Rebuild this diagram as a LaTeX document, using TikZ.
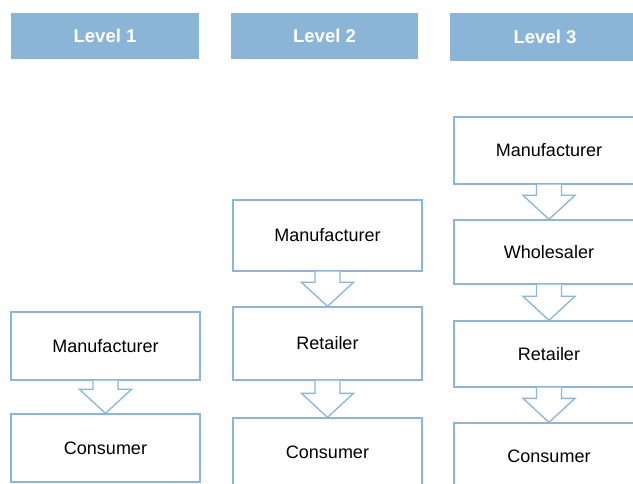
\documentclass[tikz,border=0pt]{standalone}
\usepackage{fontspec}
\setmainfont{Liberation Sans}
\usetikzlibrary{calc}
\definecolor{hdr}{HTML}{8AB5D6}
\definecolor{edge}{HTML}{8DB4DA}
\tikzset{
  hdrbox/.style={fill=hdr, draw=none, text=white, font=\fontsize{18.5}{22}\selectfont\bfseries, inner sep=0pt},
  stagebox/.style={draw=edge, line width=1.3pt, fill=white, font=\fontsize{18}{21}\selectfont, inner sep=0pt, minimum width=189pt},
  blockarr/.style={draw=edge, line width=1.3pt, fill=white, line join=miter}
}
\newcommand{\flowarrow}[2]{%
  \draw[blockarr] ([xshift=-12.5pt]#1.south) -- ($(#2.north)+(-12.5pt,24pt)$) -- ($(#2.north)+(-26pt,24pt)$)
    -- (#2.north) -- ($(#2.north)+(26pt,24pt)$) -- ($(#2.north)+(12.5pt,24pt)$) -- ([xshift=12.5pt]#1.south);}
\begin{document}
\begin{tikzpicture}[x=1pt,y=-1pt]
\useasboundingbox (0,0) rectangle (633,484);
\clip (0,0) rectangle (633,484);
% headers
\node[hdrbox, minimum width=188pt, minimum height=46pt] (h1) at (105,36) {Level 1};
\node[hdrbox, minimum width=187pt, minimum height=46pt] (h2) at (324.5,36) {Level 2};
\node[hdrbox, minimum width=190pt, minimum height=48pt] (h3) at (545,37) {Level 3};
% Level 1
\node[stagebox, minimum height=68pt] (m1) at (105.5,346) {Manufacturer};
\node[stagebox, minimum height=68pt] (c1) at (105.5,448) {Consumer};
% Level 2
\node[stagebox, minimum height=71pt] (m2) at (327.5,235.5) {Manufacturer};
\node[stagebox, minimum height=73pt] (r2) at (327.5,343.5) {Retailer};
\node[stagebox, minimum height=68pt] (c2) at (327.5,452) {Consumer};
% Level 3
\node[stagebox, minimum width=190pt, minimum height=67pt] (m3) at (549,150.5) {Manufacturer};
\node[stagebox, minimum width=190pt, minimum height=64pt] (w3) at (549,252) {Wholesaler};
\node[stagebox, minimum width=190pt, minimum height=66pt] (r3) at (549,354) {Retailer};
\node[stagebox, minimum width=190pt, minimum height=66pt] (c3) at (549,456) {Consumer};
% arrows
\flowarrow{m1}{c1}
\flowarrow{m2}{r2}
\flowarrow{r2}{c2}
\flowarrow{m3}{w3}
\flowarrow{w3}{r3}
\flowarrow{r3}{c3}
\end{tikzpicture}
\end{document}
